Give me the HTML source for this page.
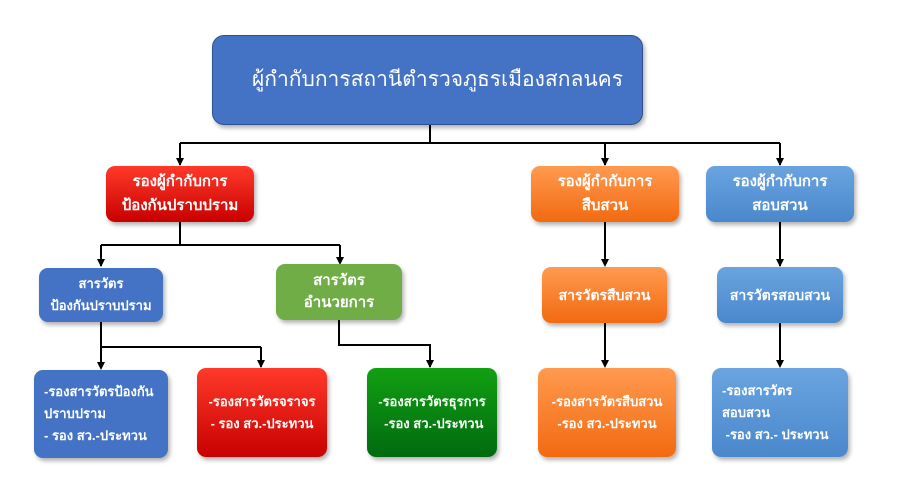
<!DOCTYPE html>
<html><head><meta charset="utf-8"><style>
body{margin:0;width:899px;height:481px;background:#fff;position:relative;overflow:hidden;font-family:"Liberation Sans","DejaVu Sans",sans-serif}
.b{position:absolute;box-sizing:border-box;border-radius:9px;color:#fff;font-weight:bold;font-size:14px;display:flex;align-items:center;justify-content:center;text-align:center;line-height:22px;box-shadow:2px 3px 4px rgba(0,0,0,.3)}
.l{text-align:left;justify-content:flex-start;padding-left:10px}
.red{background:linear-gradient(#ff3a2a,#c80000)}
.org{background:linear-gradient(#ff9a50,#f26a10)}
.lb{background:linear-gradient(#6aa4e0,#4a88cc)}
.blue{background:#4472c4}
.grn{background:#70ad47}
.dg{background:linear-gradient(#12a012,#006a10)}
</style></head><body>
<div class="b" style="left:212px;top:35px;width:431px;height:90px;background:#4472c4;border:1px solid #2f528f;font-weight:normal;font-size:21px;border-radius:12px;padding-left:20px">ผู้กำกับการสถานีตำรวจภูธรเมืองสกลนคร</div>
<svg width="899" height="481" style="position:absolute;left:0;top:0" fill="none" stroke="#000" stroke-width="2">
<path d="M430 125V143M180 143H780M180 143V165M605 143V165M780 143V165"/>
<path d="M180 222V245M101 245H340M101 245V266M340 245V263"/>
<path d="M101 322V347M101 347H261M101 347V368M261 347V367"/>
<path d="M339 320V345H430V367"/>
<path d="M605 222V265M605 323V366M780 222V266M780 323V366"/>
<g fill="#000" stroke="none">
<path d="M176 158h8l-4 8z M601 158h8l-4 8z M776 158h8l-4 8z M97 259h8l-4 8z M336 257h8l-4 8z M97 362h8l-4 8z M257 360h8l-4 8z M426 360h8l-4 8z M601 259h8l-4 8z M601 360h8l-4 8z M776 259h8l-4 8z M776 360h8l-4 8z"/>
</g></svg>
<div class="b red" style="left:106px;top:166px;width:148px;height:56px;font-size:15px;line-height:24px">รองผู้กำกับการ<br>ป้องกันปราบปราม</div>
<div class="b org" style="left:531px;top:166px;width:148px;height:56px;font-size:15px;line-height:24px">รองผู้กำกับการ<br>สืบสวน</div>
<div class="b lb" style="left:706px;top:166px;width:148px;height:56px;font-size:15px;line-height:24px">รองผู้กำกับการ<br>สอบสวน</div>
<div class="b blue" style="left:39px;top:268px;width:124px;height:54px;font-size:13px">สารวัตร<br>ป้องกันปราบปราม</div>
<div class="b grn" style="left:276px;top:264px;width:126px;height:56px;font-size:15px">สารวัตร<br>อำนวยการ</div>
<div class="b org" style="left:542px;top:267px;width:125px;height:56px">สารวัตรสืบสวน</div>
<div class="b lb" style="left:717px;top:267px;width:126px;height:56px">สารวัตรสอบสวน</div>
<div class="b blue l" style="left:34px;top:370px;width:134px;height:88px;font-size:13px">-รองสารวัตรป้องกัน<br>ปราบปราม<br>- รอง สว.-ประทวน</div>
<div class="b red" style="left:197px;top:368px;width:130px;height:89px;font-size:13px">-รองสารวัตรจราจร<br>- รอง สว.-ประทวน</div>
<div class="b dg" style="left:367px;top:368px;width:130px;height:89px;font-size:13px">-รองสารวัตรธุรการ<br>&nbsp;-รอง สว.-ประทวน</div>
<div class="b org" style="left:538px;top:368px;width:138px;height:89px;font-size:13px">-รองสารวัตรสืบสวน<br>-รอง สว.-ประทวน</div>
<div class="b lb l" style="left:712px;top:368px;width:136px;height:89px;font-size:13px">-รองสารวัตร<br>สอบสวน<br>&nbsp;-รอง สว.- ประทวน</div>
</body></html>
